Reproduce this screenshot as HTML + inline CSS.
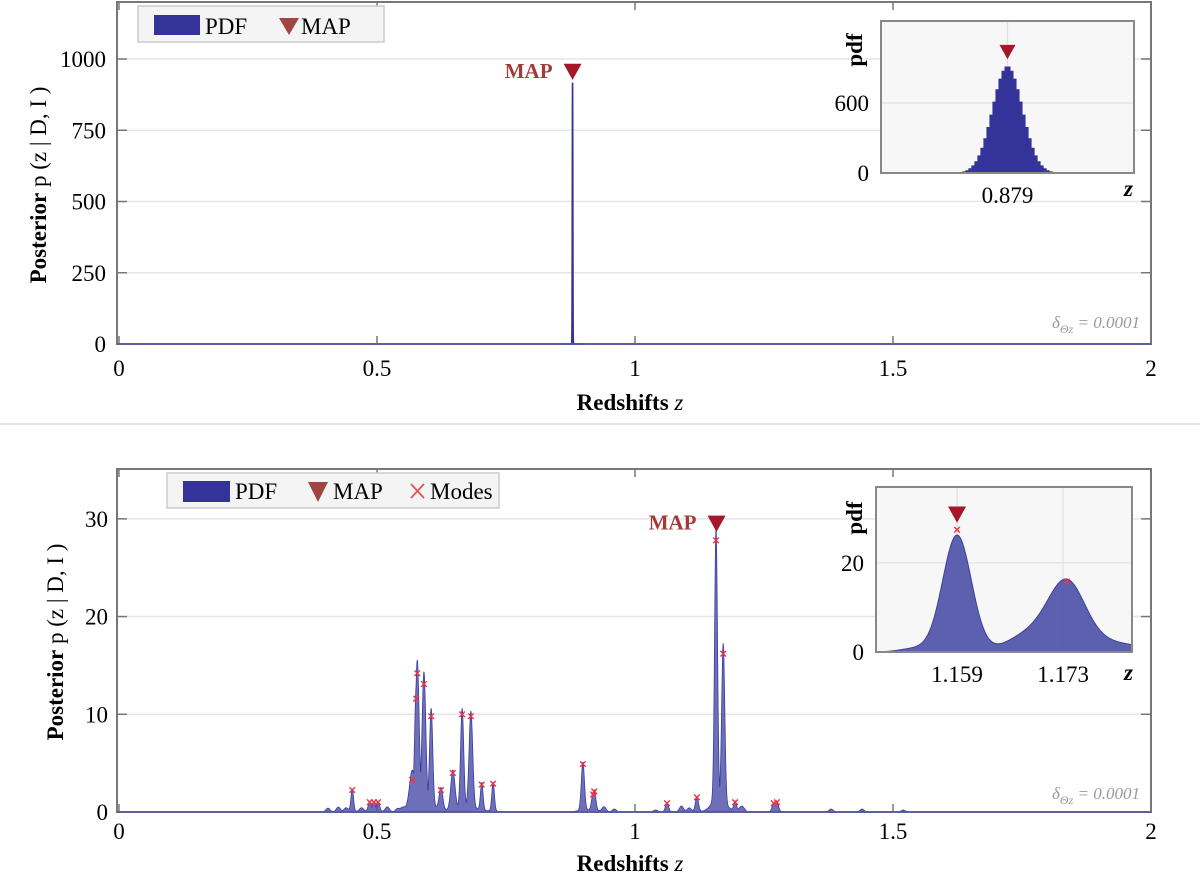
<!DOCTYPE html>
<html><head><meta charset="utf-8">
<style>
html,body{margin:0;padding:0;background:#fff;}
svg{display:block;font-family:"Liberation Serif",serif;}
</style></head>
<body>
<svg id="fig" width="1200" height="879" viewBox="0 0 1200 879" xmlns="http://www.w3.org/2000/svg">
<line x1="0" y1="424" x2="1200" y2="424" stroke="#e2e2e2" stroke-width="2"/>
</svg>
<script>
// ---------- DATA ----------
const topPeakCenters = [0.879];
const topPeakHeights = [917];
const topPeakWidths = [0.0005];
const topMap = [0.879, 955];
const topYTicks = [0, 250, 500, 750, 1000];
const xTicks = [0, 0.5, 1, 1.5, 2];
const xTickLabels = ["0", "0.5", "1", "1.5", "2"];
const topInsetYTicks = [0, 600];
const topInsetXTicks = [0.879];
const topInsetXLabels = ["0.879"];

const modeZ = [0.452,0.486,0.494,0.502,0.568,0.576,0.578,0.591,0.605,0.624,0.647,0.665,0.682,0.703,0.725,0.899,0.919,0.921,1.062,1.120,1.157,1.171,1.194,1.269,1.275];
const modeH = [2.25,1.0,1.0,1.0,3.3,11.6,14.2,13.1,9.8,2.25,4.0,10.0,9.8,2.8,2.9,4.9,1.8,2.1,0.9,1.5,27.8,16.2,1.0,0.9,1.0];
const modeW = [0.0025,0.003,0.003,0.003,0.005,0.003,0.0035,0.0035,0.003,0.0035,0.004,0.003,0.0035,0.0025,0.0025,0.003,0.003,0.003,0.003,0.003,0.0028,0.003,0.0025,0.003,0.003];
const bgZ = [0.405,0.425,0.44,0.47,0.52,0.54,0.55,0.94,0.96,1.04,1.09,1.105,1.205,1.21,1.38,1.44,1.52];
const bgH = [0.4,0.5,0.4,0.4,0.5,0.3,0.3,0.5,0.3,0.2,0.6,0.4,0.4,0.3,0.3,0.3,0.2];
const bottomMap = [1.158, 29.5];
const bottomYTicks = [0, 10, 20, 30];
const insetZ = [1.159, 1.1735, 1.1688, 1.1785, 1.1535];
const insetH = [26.2, 14.0, 4.0, 2.2, 0.8];
const insetW = [0.0019, 0.0024, 0.003, 0.0045, 0.002];
const insetModesZ = [1.159, 1.1735];
const insetModesH = [27.4, 15.8];
const insetMap = [1.159, 30.8];
const bottomInsetYTicks = [0, 20];
const bottomInsetXTicks = [1.159, 1.173];
const bottomInsetXLabels = ["1.159", "1.173"];

// ---------- HELPERS ----------
const NS = "http://www.w3.org/2000/svg";
const svg = document.getElementById('fig');
function mk(tag, attrs, parent, text){
  const e = document.createElementNS(NS, tag);
  for (const k in attrs) e.setAttribute(k, attrs[k]);
  if (text !== undefined) e.textContent = text;
  (parent || svg).appendChild(e);
  return e;
}
function lin(d0,d1,r0,r1){ return v => r0 + (v-d0)/(d1-d0)*(r1-r0); }
function gsum(z, C, H, W){ let s=0; for(let i=0;i<C.length;i++){ const d=(z-C[i])/W[i]; s+=H[i]*Math.exp(-0.5*d*d);} return s; }
function gmax(z, C, H, W){ let s=0; for(let i=0;i<C.length;i++){ const d=(z-C[i])/W[i]; s=Math.max(s,H[i]*Math.exp(-0.5*d*d));} return s; }
function tri(cx, cy, s, parent, color){
  return mk('polygon',{points:`${cx-s},${cy-s*0.9} ${cx+s},${cy-s*0.9} ${cx},${cy+s*0.9}`,fill:color||'#a3182b'},parent);
}
function cross(cx, cy, s, parent){
  const g = mk('g',{stroke:'#ee3344','stroke-width':1.4},parent);
  mk('line',{x1:cx-s,y1:cy-s,x2:cx+s,y2:cy+s},g);
  mk('line',{x1:cx-s,y1:cy+s,x2:cx+s,y2:cy-s},g);
  return g;
}
function axesFrame(g, L, T, R, B, yTicks, ys, name){
  for (const t of yTicks){
    const y = ys(t);
    const gl = mk('line',{x1:L,y1:y,x2:R,y2:y,stroke:'#e6e6e6','stroke-width':1.5},g);
    
    
  }
  const fr = mk('rect',{x:L,y:T,width:R-L,height:B-T,fill:'none',stroke:'#777','stroke-width':2},g);
  
  
}

// ===== TOP PANEL =====
(function(){
  const L=117, R=1151, T=2, B=344;
  const xs = lin(0,2,119,1151), ys = lin(0,1200,B,T);
  const g = mk('g',{});
  
  
  axesFrame(g,L,T,R,B,topYTicks,ys,'top');
  for (let i=0;i<xTicks.length;i++){
    const x = xs(xTicks[i]);
    mk('line',{x1:x,y1:B,x2:x,y2:B-8,stroke:'#777','stroke-width':1.5},g);
    mk('line',{x1:x,y1:T,x2:x,y2:T+8,stroke:'#777','stroke-width':1.5},g);
    const t = mk('text',{x:x,y:376,'text-anchor':'middle','font-size':23},g,xTickLabels[i]);
    
    
  }
  for (const v of topYTicks){
    const y = ys(v);
    mk('line',{x1:L,y1:y,x2:L+10,y2:y,stroke:'#777','stroke-width':1.5},g);
    mk('line',{x1:R,y1:y,x2:R-10,y2:y,stroke:'#777','stroke-width':1.5},g);
    const t = mk('text',{x:106,y:y+8,'text-anchor':'end','font-size':23},g,String(v));
    
    
  }
  let d = `M${xs(0.86)},${B}`;
  for (let z=0.86; z<=0.90; z+=0.00005){ d += ` L${xs(z).toFixed(2)},${ys(gsum(z,topPeakCenters,topPeakHeights,topPeakWidths)).toFixed(2)}`; }
  d += ` L${xs(0.90)},${B} Z`;
  const sp = mk('path',{d:d,fill:'#333399',stroke:'#333399','stroke-width':1.6},g);
  
  
  mk('line',{x1:L,y1:B,x2:R,y2:B,stroke:'#5558aa','stroke-width':1.5},g);
  const m = tri(xs(topMap[0]), ys(topMap[1]), 9, g);
  
  
  const ml = mk('text',{x:xs(topMap[0])-20,y:ys(topMap[1])+6,'text-anchor':'end','font-size':21,'font-weight':'bold',fill:'#a33a3a'},g,'MAP');
  
  
  const lg = mk('g',{},g);
  
  
  mk('rect',{x:138,y:6,width:246,height:36,fill:'#f4f4f4',stroke:'#ccc','stroke-width':1.5},lg);
  mk('rect',{x:154,y:15,width:46,height:20,fill:'#333399'},lg);
  mk('text',{x:205,y:34,'font-size':23},lg,'PDF');
  mk('polygon',{points:'279,18 299,18 289,35',fill:'#a34444'},lg);
  mk('text',{x:301,y:34,'font-size':23},lg,'MAP');
  const an = mk('text',{x:1140,y:328,'text-anchor':'end','font-size':17,'font-style':'italic',fill:'#999'},g);
  
  
  mk('tspan',{},an,'δ');
  mk('tspan',{'font-size':12,dy:5},an,'Θz');
  mk('tspan',{dy:-5},an,' = 0.0001');
  const xl = mk('text',{x:630,y:410,'text-anchor':'middle','font-size':23},g);
  
  
  mk('tspan',{'font-weight':'bold'},xl,'Redshifts ');
  mk('tspan',{'font-style':'italic'},xl,'z');
  const yl = mk('text',{transform:'translate(46,185) rotate(-90)','text-anchor':'middle','font-size':23},g);
  
  
  mk('tspan',{'font-weight':'bold'},yl,'Posterior');
  mk('tspan',{},yl,' p (z | D, I )');
  const IL=881, IR=1134, IT=21, IB=173;
  const ixs = lin(0.8748,0.8832,IL,IR), iys = lin(0,1303,IB,IT);
  const ig = mk('g',{},g);
  
  
  mk('rect',{x:IL,y:IT,width:IR-IL,height:IB-IT,fill:'#f7f7f7'},ig);
  for (const v of topInsetYTicks){ mk('line',{x1:IL,y1:iys(v),x2:IR,y2:iys(v),stroke:'#e0e0e0','stroke-width':1.2},ig);
    const t=mk('text',{x:IL-12,y:iys(v)+8,'text-anchor':'end','font-size':23},ig,String(v));
    
     }
  for (let i=0;i<topInsetXTicks.length;i++){ const x=ixs(topInsetXTicks[i]);
    mk('line',{x1:x,y1:IT,x2:x,y2:IB,stroke:'#e0e0e0','stroke-width':1.2},ig);
    const t=mk('text',{x:x,y:IB+30,'text-anchor':'middle','font-size':23},ig,topInsetXLabels[i]);
    
     }
  let hd = `M${IL},${IB}`;
  for (let z=0.8748; z<0.8832; z+=0.0001){
    const h = gsum(z+0.00005,topPeakCenters,topPeakHeights,topPeakWidths);
    hd += ` L${ixs(z).toFixed(2)},${iys(h).toFixed(2)} L${ixs(z+0.0001).toFixed(2)},${iys(h).toFixed(2)}`;
  }
  hd += ` L${IR},${IB} Z`;
  const hp = mk('path',{d:hd,fill:'#333399'},ig);
  
  
  mk('line',{x1:IL,y1:IB,x2:IR,y2:IB,stroke:'#6a6cc0','stroke-width':2},ig);
  mk('rect',{x:IL,y:IT,width:IR-IL,height:IB-IT,fill:'none',stroke:'#888','stroke-width':2},ig);
  const im = tri(ixs(topMap[0]), iys(1037), 8, ig);
  
  
  mk('text',{transform:`translate(862,50) rotate(-90)`,'text-anchor':'middle','font-size':23,'font-weight':'bold'},ig,'pdf');
  mk('text',{x:1124,y:196,'font-size':23,'font-style':'italic','font-weight':'bold'},ig,'z');
})();

// ===== BOTTOM PANEL =====
(function(){
  const L=117, R=1151, T=469, B=812;
  const xs = lin(0,2,119,1151), ys = lin(0,35.1,B,T);
  const g = mk('g',{});
  
  
  axesFrame(g,L,T,R,B,bottomYTicks,ys,'bottom');
  for (let i=0;i<xTicks.length;i++){
    const x = xs(xTicks[i]);
    mk('line',{x1:x,y1:B,x2:x,y2:B-8,stroke:'#777','stroke-width':1.5},g);
    mk('line',{x1:x,y1:T,x2:x,y2:T+8,stroke:'#777','stroke-width':1.5},g);
    const t = mk('text',{x:x,y:839,'text-anchor':'middle','font-size':23},g,xTickLabels[i]);
    
    
  }
  for (const v of bottomYTicks){
    const y = ys(v);
    mk('line',{x1:L,y1:y,x2:L+10,y2:y,stroke:'#777','stroke-width':1.5},g);
    mk('line',{x1:R,y1:y,x2:R-10,y2:y,stroke:'#777','stroke-width':1.5},g);
    const t = mk('text',{x:108,y:y+8,'text-anchor':'end','font-size':23},g,String(v));
    
    
  }
  const bgW = bgZ.map(()=>0.004);
  let d = `M${xs(0)},${B}`;
  for (let z=0.35; z<=1.6; z+=0.0004){
    const h = gmax(z,modeZ,modeH,modeW)+0.6*gsum(z,modeZ,modeH.map(v=>v*0.06),modeW.map(w=>w*4))+gsum(z,bgZ,bgH,bgW);
    d += ` L${xs(z).toFixed(2)},${ys(h).toFixed(2)}`;
  }
  d += ` L${xs(2)},${B} Z`;
  const pp = mk('path',{d:d,fill:'#5356ab','fill-opacity':0.85,stroke:'#3a3d9c','stroke-width':0.8},g);
  
  
  mk('line',{x1:L,y1:B,x2:R,y2:B,stroke:'#5558aa','stroke-width':1.5},g);
  for (let i=0;i<modeZ.length;i++){
    const c = cross(xs(modeZ[i]), ys(modeH[i]), 2.8, g);
    
    
  }
  const m = tri(xs(bottomMap[0]), ys(bottomMap[1]), 9, g);
  
  
  const ml = mk('text',{x:xs(bottomMap[0])-20,y:ys(bottomMap[1])+6,'text-anchor':'end','font-size':21,'font-weight':'bold',fill:'#a33a3a'},g,'MAP');
  
  
  const lg = mk('g',{},g);
  
  
  mk('rect',{x:167,y:473,width:332,height:35,fill:'#f4f4f4',stroke:'#ccc','stroke-width':1.5},lg);
  mk('rect',{x:183,y:481,width:47,height:21,fill:'#333399'},lg);
  mk('text',{x:235,y:499,'font-size':23},lg,'PDF');
  mk('polygon',{points:'308,482 328,482 318,502',fill:'#a34444'},lg);
  mk('text',{x:333,y:499,'font-size':23},lg,'MAP');
  const lc = mk('g',{stroke:'#dd5555','stroke-width':1.8},lg);
  mk('line',{x1:411,y1:484,x2:424,y2:498},lc); mk('line',{x1:411,y1:498,x2:424,y2:484},lc);
  mk('text',{x:430,y:499,'font-size':23},lg,'Modes');
  const an = mk('text',{x:1140,y:799,'text-anchor':'end','font-size':17,'font-style':'italic',fill:'#999'},g);
  
  
  mk('tspan',{},an,'δ');
  mk('tspan',{'font-size':12,dy:5},an,'Θz');
  mk('tspan',{dy:-5},an,' = 0.0001');
  const xl = mk('text',{x:630,y:871,'text-anchor':'middle','font-size':23},g);
  
  
  mk('tspan',{'font-weight':'bold'},xl,'Redshifts ');
  mk('tspan',{'font-style':'italic'},xl,'z');
  const yl = mk('text',{transform:'translate(63,642) rotate(-90)','text-anchor':'middle','font-size':23},g);
  
  
  mk('tspan',{'font-weight':'bold'},yl,'Posterior');
  mk('tspan',{},yl,' p (z | D, I )');
  const IL=876, IR=1132, IT=487, IB=652;
  const ixs = lin(1.1483,1.1821,IL,IR), iys = lin(0,37,IB,IT);
  const ig = mk('g',{},g);
  
  
  mk('rect',{x:IL,y:IT,width:IR-IL,height:IB-IT,fill:'#f7f7f7'},ig);
  for (const v of bottomInsetYTicks){ mk('line',{x1:IL,y1:iys(v),x2:IR,y2:iys(v),stroke:'#e0e0e0','stroke-width':1.2},ig);
    const t=mk('text',{x:IL-12,y:iys(v)+8,'text-anchor':'end','font-size':23},ig,String(v));
    
     }
  for (let i=0;i<bottomInsetXTicks.length;i++){ const x=ixs(bottomInsetXTicks[i]);
    mk('line',{x1:x,y1:IT,x2:x,y2:IB,stroke:'#e0e0e0','stroke-width':1.2},ig);
    const t=mk('text',{x:x,y:IB+30,'text-anchor':'middle','font-size':23},ig,bottomInsetXLabels[i]);
    
     }
  let hd = `M${IL},${IB}`;
  for (let z=1.1483; z<=1.1821; z+=0.00005){
    hd += ` L${ixs(z).toFixed(2)},${iys(gsum(z,insetZ,insetH,insetW)).toFixed(2)}`;
  }
  hd += ` L${IR},${IB} Z`;
  const hp = mk('path',{d:hd,fill:'#4f52a8','fill-opacity':0.92,stroke:'#3d409e','stroke-width':1},ig);
  
  
  mk('rect',{x:IL,y:IT,width:IR-IL,height:IB-IT,fill:'none',stroke:'#888','stroke-width':2},ig);
  for (let i=0;i<insetModesZ.length;i++){
    const c = cross(ixs(insetModesZ[i]), iys(insetModesH[i]), 2.8, ig);
    
    
  }
  const im = tri(ixs(insetMap[0]), iys(insetMap[1]), 9, ig);
  
  
  mk('text',{transform:`translate(862,518) rotate(-90)`,'text-anchor':'middle','font-size':23,'font-weight':'bold'},ig,'pdf');
  mk('text',{x:1124,y:680,'font-size':23,'font-style':'italic','font-weight':'bold'},ig,'z');
})();
</script>
</body></html>
